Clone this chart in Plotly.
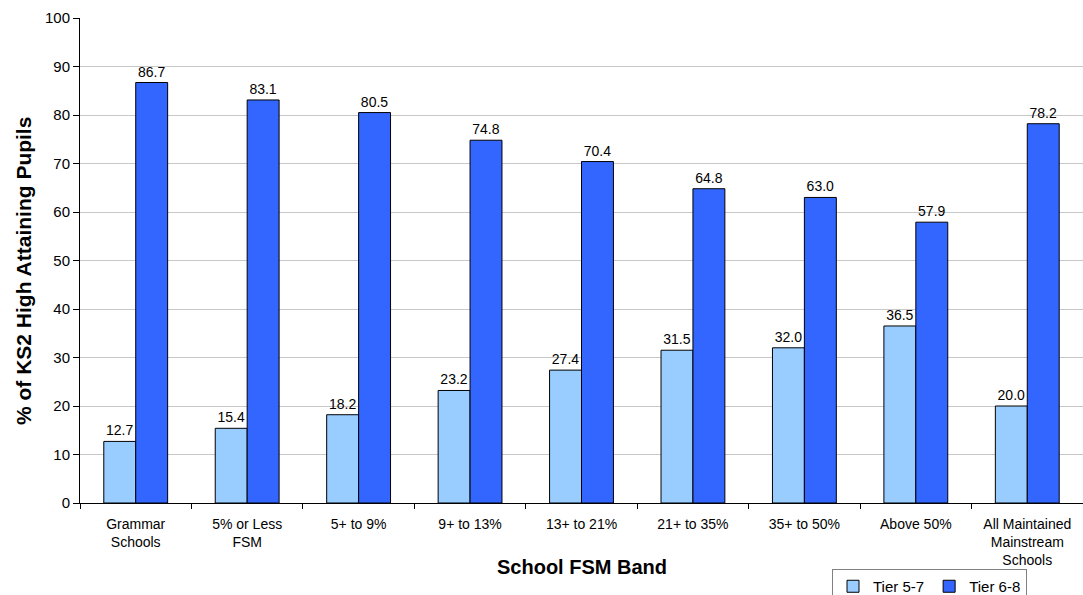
import plotly.graph_objects as go

categories = [
    "Grammar<br>Schools",
    "5% or Less<br>FSM",
    "5+ to 9%",
    "9+ to 13%",
    "13+ to 21%",
    "21+ to 35%",
    "35+ to 50%",
    "Above 50%",
    "All Maintained<br>Mainstream<br>Schools",
]
tier_5_7 = [12.7, 15.4, 18.2, 23.2, 27.4, 31.5, 32.0, 36.5, 20.0]
tier_6_8 = [86.7, 83.1, 80.5, 74.8, 70.4, 64.8, 63.0, 57.9, 78.2]

FONT = "Liberation Sans, Arial, sans-serif"

fig = go.Figure()
fig.add_trace(go.Bar(
    name="Tier 5-7", x=categories, y=tier_5_7,
    marker=dict(color="#99ccff", line=dict(color="#000000", width=1)),
    texttemplate="%{y:.1f}", textposition="outside",
    textfont=dict(size=14, color="#000000", family=FONT),
    cliponaxis=False,
))
fig.add_trace(go.Bar(
    name="Tier 6-8", x=categories, y=tier_6_8,
    marker=dict(color="#3366ff", line=dict(color="#000000", width=1)),
    texttemplate="%{y:.1f}", textposition="outside",
    textfont=dict(size=14, color="#000000", family=FONT),
    cliponaxis=False,
))

fig.update_layout(
    width=1083, height=595,
    margin=dict(l=80, r=0, t=18, b=92, autoexpand=False),
    barmode="group", bargap=0.427, bargroupgap=0,
    plot_bgcolor="#ffffff", paper_bgcolor="#ffffff",
    font=dict(family=FONT, size=14, color="#000000"),
    showlegend=True,
    legend=dict(
        orientation="h", xref="container", yref="container",
        x=832 / 1083, y=(595 - 569) / 595, xanchor="left", yanchor="top",
        bordercolor="#808080", borderwidth=1,
        font=dict(size=15, family=FONT), itemwidth=30,
        tracegroupgap=0,
    ),
    xaxis=dict(
        automargin=False,
        showline=True, linecolor="#000000", linewidth=1,
        ticks="outside", tickson="boundaries", ticklen=5, tickcolor="#000000",
        ticklabelstandoff=8,
        tickfont=dict(size=14, family=FONT),
    ),
    yaxis=dict(
        automargin=False,
        range=[0, 100], dtick=10,
        showline=True, linecolor="#000000", linewidth=1,
        ticks="outside", ticklen=6, tickcolor="#000000",
        showgrid=True, gridcolor="#c8c8c8", gridwidth=1,
        zeroline=False,
        tickfont=dict(size=15, family=FONT),
    ),
    annotations=[
        dict(
            text="<b>School FSM Band</b>", xref="paper", yref="paper",
            x=0.5, y=(503 - 567) / 485, xanchor="center", yanchor="middle",
            showarrow=False, font=dict(size=20, family=FONT, color="#000000"),
        ),
        dict(
            text="<b>% of KS2 High Attaining Pupils</b>", xref="paper", yref="paper",
            x=(23 - 80) / 1003, y=(503 - 271) / 485, xanchor="center", yanchor="middle",
            textangle=-90, showarrow=False,
            font=dict(size=21, family=FONT, color="#000000"),
        ),
    ],
)

fig.write_html("out.html")
